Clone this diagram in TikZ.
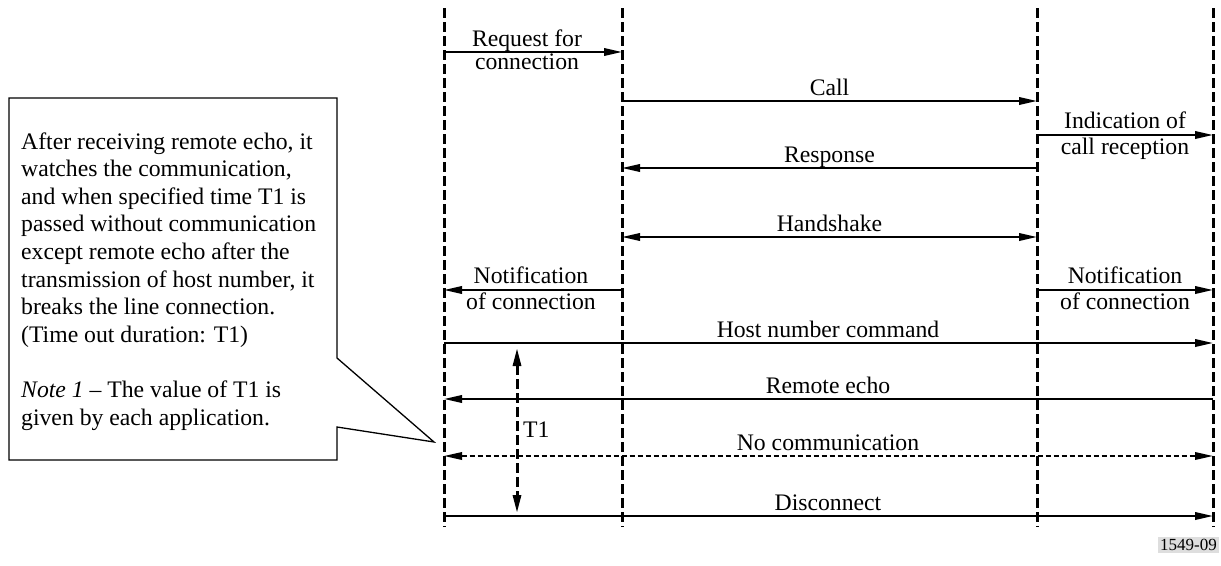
\documentclass[tikz,border=0pt]{standalone}
\usepackage{fontspec}
\setmainfont{Liberation Serif}
\usetikzlibrary{arrows.meta}
\begin{document}
\begin{tikzpicture}[x=1pt,y=-1pt,
  font=\fontsize{23.7}{26.5}\selectfont,
  lifeline/.style={line width=3pt,dash pattern=on 10pt off 4pt},
  msg/.style={line width=2pt,-{Triangle[length=18pt,width=7.5pt]}},
  msgboth/.style={line width=2pt,{Triangle[length=18pt,width=7.5pt]}-{Triangle[length=18pt,width=7.5pt]}},
  msgdash/.style={msgboth,line width=1.8pt,dash pattern=on 5pt off 3pt},
  timer/.style={line width=3pt,dash pattern=on 10pt off 4pt,{Triangle[length=18pt,width=8pt]}-{Triangle[length=18pt,width=8pt]}},
  lbl/.style={inner sep=0pt,anchor=base},
  notebox/.style={draw,line width=1.3pt,fill=white},
  noteline/.style={inner sep=0pt,anchor=base west},
  figno/.style={fill=black!13,inner sep=2pt,font=\fontsize{17}{20}\selectfont}]
\useasboundingbox (0,0) rectangle (1221,565);

% lifelines
\foreach \n/\x in {A/444,B/622,C/1037,D/1213}{
  \coordinate (\n top) at (\x,8);
  \coordinate (\n bot) at (\x,527);
  \draw[lifeline] (\n top) -- (\n bot);
}

% message end points
\coordinate (m1a) at (444,52);  \coordinate (m1b) at (622,52);
\coordinate (m2a) at (622,101); \coordinate (m2b) at (1037,101);
\coordinate (m3a) at (1037,135);\coordinate (m3b) at (1213,135);
\coordinate (m4a) at (1037,168);\coordinate (m4b) at (622,168);
\coordinate (m5a) at (622,237); \coordinate (m5b) at (1037,237);
\coordinate (m6a) at (622,290); \coordinate (m6b) at (444,290);
\coordinate (m7a) at (1037,290);\coordinate (m7b) at (1213,290);
\coordinate (m8a) at (444,343); \coordinate (m8b) at (1213,343);
\coordinate (m9a) at (1213,399);\coordinate (m9b) at (444,399);
\coordinate (m10a) at (444,456);\coordinate (m10b) at (1213,456);
\coordinate (m11a) at (444,516);\coordinate (m11b) at (1213,516);
\coordinate (t1a) at (517,348); \coordinate (t1b) at (517,513);

\draw[msg] (m1a) -- (m1b);
\draw[msg] (m2a) -- (m2b);
\draw[msg] (m3a) -- (m3b);
\draw[msg] (m4a) -- (m4b);
\draw[msgboth] (m5a) -- (m5b);
\draw[msg] (m6a) -- (m6b);
\draw[msg] (m7a) -- (m7b);
\draw[msg] (m8a) -- (m8b);
\draw[msg] (m9a) -- (m9b);
\draw[msgdash] (m10a) -- (m10b);
\draw[msg] (m11a) -- (m11b);
\draw[timer] (t1a) -- (t1b);

% labels
\node[lbl] (l1a) at (527,46) {Request for};
\node[lbl] (l1b) at (527,69.5) {connection};
\node[lbl] (l2) at (829.5,95) {Call};
\node[lbl] (l3a) at (1125,128) {Indication of};
\node[lbl] (l3b) at (1125,154) {call reception};
\node[lbl] (l4) at (829.5,162) {Response};
\node[lbl] (l5) at (829.5,231) {Handshake};
\node[lbl] (l6a) at (531,283.5) {Notification};
\node[lbl] (l6b) at (531,309) {of connection};
\node[lbl] (l7a) at (1125,283.5) {Notification};
\node[lbl] (l7b) at (1125,309) {of connection};
\node[lbl] (l8) at (828,337) {Host number command};
\node[lbl] (l9) at (828,393) {Remote echo};
\node[lbl] (l10) at (828,450) {No communication};
\node[lbl] (l11) at (828,510) {Disconnect};
\node[noteline] (lt1) at (523,437) {T1};

% callout
\draw[notebox] (9,98) -- (337,98) -- (337,358) -- (434,442) -- (337,427) -- (337,460) -- (9,460) -- cycle;
\node[noteline] (n1) at (21,149) {After receiving remote echo, it};
\node[noteline] (n2) at (21,176.6) {watches the communication,};
\node[noteline] (n3) at (21,204.2) {and when specified time T1 is};
\node[noteline] (n4) at (21,231.8) {passed without communication};
\node[noteline] (n5) at (21,259.4) {except remote echo after the};
\node[noteline] (n6) at (21,287) {transmission of host number, it};
\node[noteline] (n7) at (21,314.6) {breaks the line connection.};
\node[noteline] (n8) at (21,342.2) {(Time out duration: T1)};
\node[noteline] (n9) at (21,397.4) {\textit{Note 1} \textendash{} The value of T1 is};
\node[noteline] (n10) at (21,425) {given by each application.};

% figure number
\node[figno,anchor=east] (fig) at (1219,545) {1549-09};
\end{tikzpicture}
\end{document}
